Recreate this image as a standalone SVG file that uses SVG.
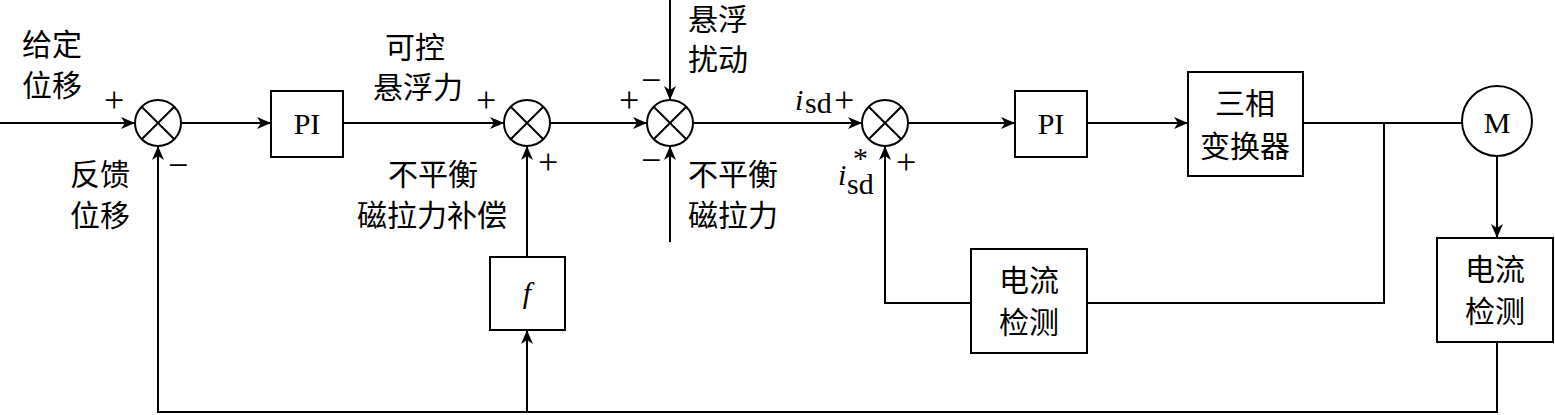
<svg xmlns="http://www.w3.org/2000/svg" width="1555" height="415" viewBox="0 0 1555 415">
<style>
text{font-family:"Liberation Serif","Noto Sans CJK SC",serif;font-size:30px;fill:#000}
.c{text-anchor:middle}
.s{font-size:36px}
.b{fill:#fff;stroke:#000;stroke-width:2}
.l{fill:none;stroke:#000;stroke-width:2}
</style>
<defs><marker id="a" viewBox="0 0 14 12" refX="14" refY="6" markerWidth="14" markerHeight="12" markerUnits="userSpaceOnUse" orient="auto"><path d="M0,0L14,6L0,12L4,6z"/></marker></defs>
<g id="connectors" class="l">
<path d="M0,123H135" marker-end="url(#a)"/>
<path d="M181,123H271" marker-end="url(#a)"/>
<path d="M343,123H504" marker-end="url(#a)"/>
<path d="M550,123H647" marker-end="url(#a)"/>
<path d="M670,0V100" marker-end="url(#a)"/>
<path d="M670,242V146" marker-end="url(#a)"/>
<path d="M693,123H862" marker-end="url(#a)"/>
<path d="M908,123H1015" marker-end="url(#a)"/>
<path d="M1087,123H1188" marker-end="url(#a)"/>
<path d="M1303,123H1462"/>
<path d="M1497,156V238" marker-end="url(#a)"/>
<path d="M1384,123V303H1087"/>
<path d="M971,303H885V146" marker-end="url(#a)"/>
<path d="M1497,342V412H158V146" marker-end="url(#a)"/>
<path d="M527,412V330" marker-end="url(#a)"/>
<path d="M527,257V146" marker-end="url(#a)"/>
</g>
<g id="sum1"><circle class="b" cx="158" cy="123" r="23"/><path class="l" d="M141.7,106.7L174.3,139.3M174.3,106.7L141.7,139.3"/></g>
<g id="sum2"><circle class="b" cx="527" cy="123" r="23"/><path class="l" d="M510.7,106.7L543.3,139.3M543.3,106.7L510.7,139.3"/></g>
<g id="sum3"><circle class="b" cx="670" cy="123" r="23"/><path class="l" d="M653.7,106.7L686.3,139.3M686.3,106.7L653.7,139.3"/></g>
<g id="sum4"><circle class="b" cx="885" cy="123" r="23"/><path class="l" d="M868.7,106.7L901.3,139.3M901.3,106.7L868.7,139.3"/></g>
<g id="pi1"><rect class="b" x="271" y="91" width="72" height="66"/><text class="c" x="307" y="134">PI</text></g>
<g id="pi2"><rect class="b" x="1015" y="91" width="72" height="66"/><text class="c" x="1051" y="134">PI</text></g>
<g id="conv"><rect class="b" x="1188" y="72" width="115" height="104"/><text class="c" x="1245" y="114">三相</text><text class="c" x="1245" y="157">变换器</text></g>
<g id="motor"><circle class="b" cx="1497" cy="121" r="35"/><text class="c" x="1497" y="133" font-size="34">M</text></g>
<g id="det2"><rect class="b" x="1437" y="238" width="116" height="104"/><text class="c" x="1495" y="280">电流</text><text class="c" x="1495" y="322">检测</text></g>
<g id="det1"><rect class="b" x="971" y="249" width="116" height="104"/><text class="c" x="1029" y="291">电流</text><text class="c" x="1029" y="333">检测</text></g>
<g id="f"><rect class="b" x="490" y="257" width="75" height="73"/><text class="c" x="527" y="303" font-style="italic">f</text></g>
<g id="labels">
<text x="22" y="55">给定</text><text x="22" y="96">位移</text>
<text class="s" x="104" y="112">+</text>
<text x="70" y="185">反馈</text><text x="70" y="226">位移</text>
<text class="s" x="168" y="177">−</text>
<text class="c" x="415" y="58">可控</text><text class="c" x="418" y="98">悬浮力</text>
<text class="s" x="476" y="112">+</text>
<text class="c" x="433" y="185">不平衡</text><text class="c" x="432" y="226">磁拉力补偿</text>
<text class="s" x="538" y="174">+</text>
<text class="s" x="619" y="112">+</text>
<text class="s" x="641" y="92">−</text>
<text x="688" y="30">悬浮</text><text x="688" y="70">扰动</text>
<text class="s" x="641" y="172">−</text>
<text x="688" y="185">不平衡</text><text x="688" y="226">磁拉力</text>
<text x="795" y="110" font-style="italic">i</text><text x="805" y="113" font-size="21">sd</text>
<text class="s" x="834" y="112">+</text>
<text x="838" y="185" font-style="italic">i</text><text x="853" y="168" font-size="21">*</text><text x="847" y="194" font-size="21">sd</text>
<text class="s" x="896" y="174">+</text>
</g>
</svg>
